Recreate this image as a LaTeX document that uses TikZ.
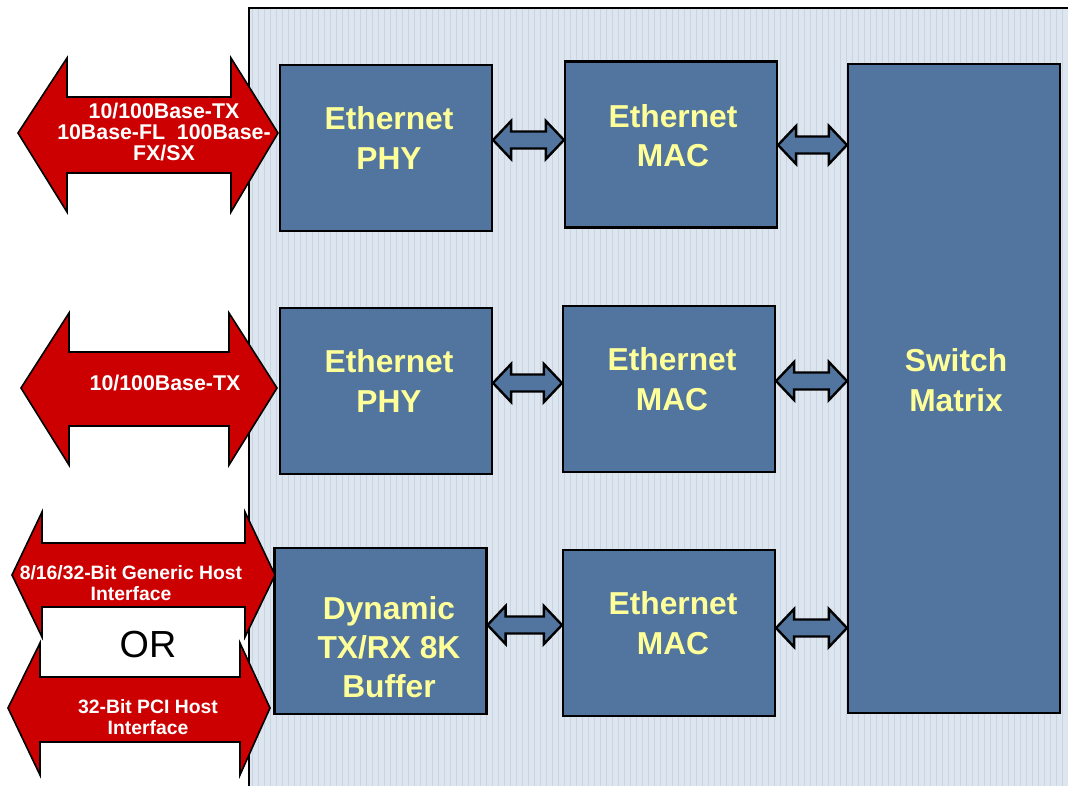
\documentclass[tikz,border=0pt]{standalone}
\usepackage{fontspec}
\setmainfont{Liberation Sans}
\usetikzlibrary{calc}
\definecolor{boxblue}{HTML}{51759E}
\definecolor{textyellow}{HTML}{FFFF99}
\definecolor{portred}{HTML}{CC0000}
\definecolor{panelbg}{HTML}{DDE5EF}
\definecolor{panelgrid}{HTML}{C9D5E5}

\newcommand{\fatlink}[3]{%
	\coordinate (l) at (#1.east |- 0,#3);
	\coordinate (r) at (#2.west |- 0,#3);
	\draw[link] (l) -- ++(18,-19) -- ++(0,10.5) -- ($(r)+(-18,-8.5)$) -- ++(0,-10.5) -- (r)
		-- ++(-18,19) -- ++(0,-10.5) -- ($(l)+(18,8.5)$) -- ++(0,10.5) -- cycle;
}

\begin{document}
\begin{tikzpicture}[x=0.75pt, y=-0.75pt,
	every node/.style={inner sep=0pt},
	block/.style={draw=black, line width=1.6pt, fill=boxblue, minimum width=159pt, minimum height=124.5pt},
	blocktext/.style={text=textyellow, align=center, font=\bfseries\fontsize{23.8}{29.5}\selectfont},
	link/.style={draw=black, line width=1.8pt, fill=boxblue, line join=miter},
	port/.style={draw=black, line width=1.2pt, fill=portred, line join=miter},
	porttext/.style={text=white, align=center, font=\bfseries\fontsize{16}{15.75}\selectfont},
	hosttext/.style={text=white, align=center, font=\bfseries\fontsize{14.5}{16}\selectfont}]
		\useasboundingbox (0,0) rectangle (1068,786);

		\fill[panelbg] (249,8) rectangle (1068,786);
		\draw[panelgrid, line width=0.3pt, step=6] (250,9) grid (1068,786);
		\draw[line width=2.2pt] (249,786) -- (249,8) -- (1068,8);

		\node[block] at (386, 148) (phyA) {};
		\node[block] at (671, 144.5) (macA) {};
		\node[block, minimum height=486.75pt] at (954, 388.5) (switch) {};
		\node[block] at (386, 391) (phyB) {};
		\node[block] at (669, 389) (macB) {};
		\node[block] at (380.5, 631) (buffer) {};
		\node[block] at (669, 633) (macC) {};

		\node[blocktext] at (389, 138) (phyAtext) {Ethernet\\PHY};
		\node[blocktext] at (673, 135.5) (macAtext) {Ethernet\\MAC};
		\node[blocktext] at (956, 380) (switchtext) {Switch\\Matrix};
		\node[blocktext] at (389, 381) (phyBtext) {Ethernet\\PHY};
		\node[blocktext] at (672, 379) (macBtext) {Ethernet\\MAC};
		\node[blocktext] at (389, 647) (buffertext) {Dynamic\\TX/RX 8K\\Buffer};
		\node[blocktext] at (673, 623) (macCtext) {Ethernet\\MAC};

		\fatlink{phyA}{macA}{140}
		\fatlink{macA}{switch}{145}
		\fatlink{phyB}{macB}{383}
		\fatlink{macB}{switch}{381}
		\fatlink{buffer}{macC}{625}
		\fatlink{macC}{switch}{628}

		\draw[port] (18,133) -- (67,58) -- (67,97) -- (231,97) -- (231,58) -- (278,133)
			-- (231,212) -- (231,173) -- (67,173) -- (67,212) -- cycle;
		\draw[port] (21,388) -- (69,313) -- (69,352) -- (229,352) -- (229,313) -- (277,388)
			-- (229,465) -- (229,426) -- (69,426) -- (69,465) -- cycle;
		\draw[port] (12,575) -- (42,512) -- (42,543) -- (245,543) -- (245,512) -- (275,575)
			-- (245,637) -- (245,607) -- (42,607) -- (42,637) -- cycle;
		\draw[port] (8,708) -- (40,643) -- (40,677) -- (240,677) -- (240,643) -- (270,708)
			-- (240,775) -- (240,742) -- (40,742) -- (40,775) -- cycle;

		\node[porttext] at (164, 132) (portA) {10/100Base-TX\\10Base-FL\ \ 100Base-\\FX/SX};
		\node[porttext] at (165, 383) (portB) {10/100Base-TX};
		\node[hosttext] at (131, 583) (hostA) {8/16/32-Bit Generic Host\\Interface};
		\node[hosttext] at (148, 717) (hostB) {32-Bit PCI Host\\Interface};
		\node[font=\fontsize{28.3}{30}\selectfont] at (148, 645) (or) {OR};
	\end{tikzpicture}
\end{document}
